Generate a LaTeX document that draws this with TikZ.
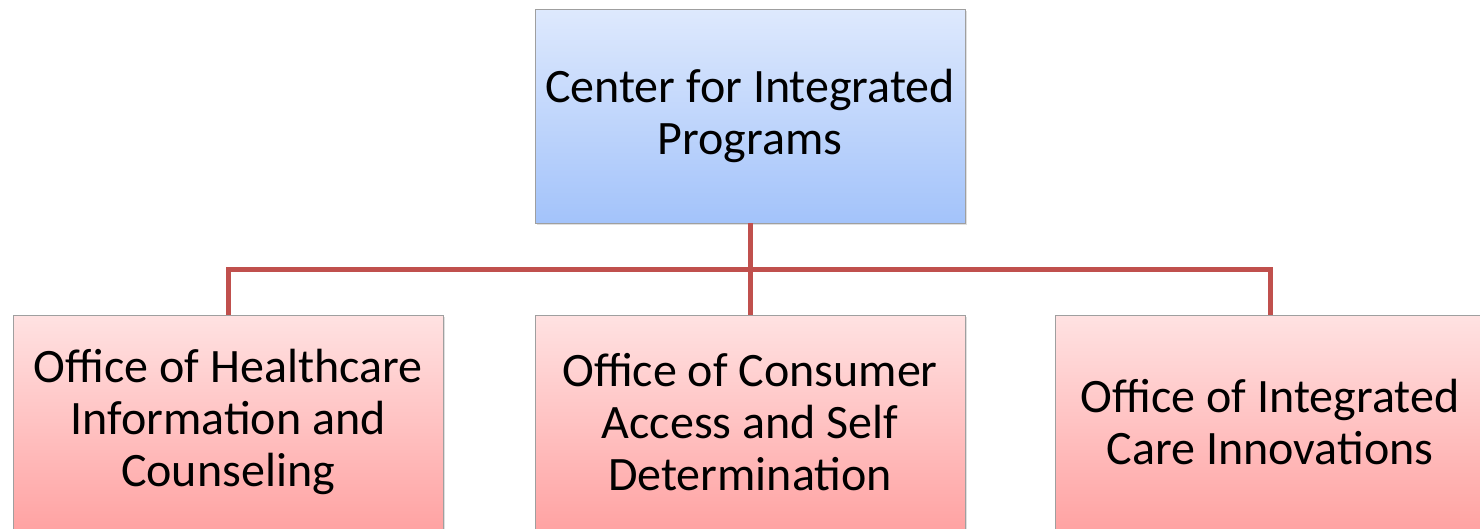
\documentclass[tikz,border=0pt]{standalone}
\usepackage{fontspec}
\setmainfont{Carlito}
\usetikzlibrary{shadows}

\definecolor{linkred}{HTML}{C0504D}
\definecolor{bluetop}{HTML}{DEE9FD}
\definecolor{bluebot}{HTML}{A3C3FA}
\definecolor{pinktop}{HTML}{FFE2E2}
\definecolor{pinkbot}{HTML}{FFA3A3}

\tikzset{
	unit/.style={draw=gray!75, line width=0.8pt, align=center, inner sep=0pt,
		minimum width=430pt, minimum height=214pt,
		font=\fontsize{48}{52}\selectfont,
		drop shadow={opacity=0.25, shadow xshift=1.5pt, shadow yshift=-1.5pt}},
	head/.style={unit, top color=bluetop, bottom color=bluebot},
	office/.style={unit, top color=pinktop, bottom color=pinkbot},
	link/.style={draw=linkred, line width=5pt, line join=miter}
}

\begin{document}
\begin{tikzpicture}[x=1pt,y=-1pt]
	\useasboundingbox (0,0) rectangle (1480,528);
	\coordinate (bar) at (750,269);

	\node[head] (center) at (750,116) {Center for Integrated\\Programs};

	\node[office] (hic) at (228,422) {Office of Healthcare\\Information and\\Counseling};
	\node[office] (casd) at (750,422) {Office of Consumer\\Access and Self\\Determination};
	\node[office] (ici) at (1270,422) {Office of Integrated\\Care Innovations};

	\draw[link] (center.south) -- (casd.north);
	\draw[link] (hic.north) -- (hic.north |- bar) -- (ici.north |- bar) -- (ici.north);
\end{tikzpicture}
\end{document}
